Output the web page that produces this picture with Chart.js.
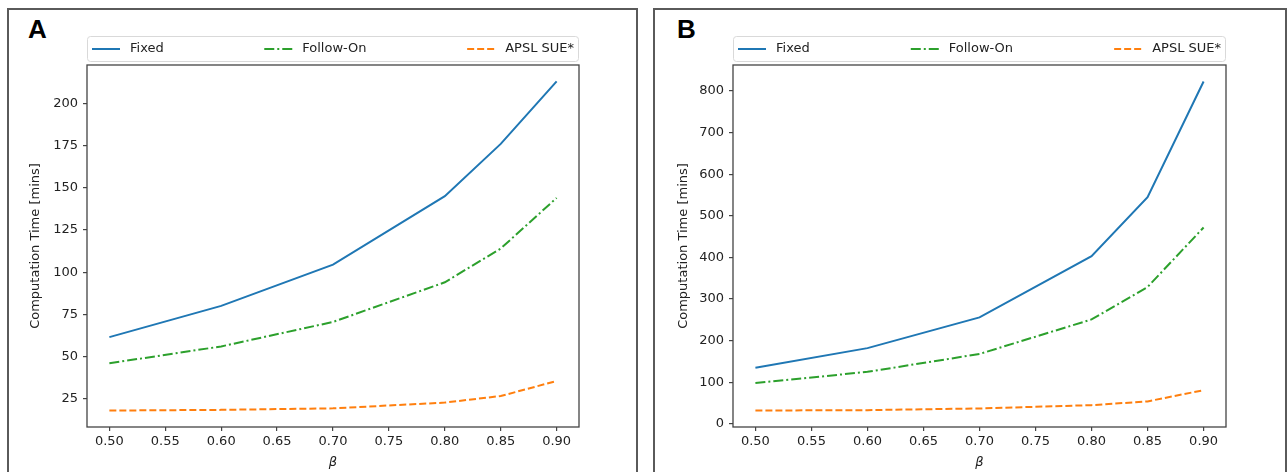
<!DOCTYPE html>
<html>
<head>
<meta charset="utf-8">
<script src="https://cdn.jsdelivr.net/npm/chart.js@4/dist/chart.umd.min.js"></script>
<style>
    body { margin: 0; background: #fff; width: 1288px; height: 472px; overflow: hidden; position: relative; }
    .panel { position: absolute; top: 8px; height: 480px; border: 2px solid #5a5a5a; box-sizing: border-box; }
    .tag { position: absolute; top: 14px; font: bold 26px "Liberation Sans", Arial, sans-serif; color: #000; }
    canvas { position: absolute; top: 0; }
</style>
</head>
<body>
<div class="panel" style="left:7px; width:631px;"></div>
<div class="panel" style="left:653px; width:634px;"></div>
<div class="tag" style="left:28px;">A</div>
<div class="tag" style="left:677px;">B</div>
<canvas id="chartA" width="644" height="472" style="left:0px;"></canvas>
<canvas id="chartB" width="644" height="472" style="left:644px;"></canvas>
<script>
// beta values where runs were made
const betaValues = [0.50, 0.60, 0.70, 0.80, 0.85, 0.90];
const xTicks = [0.50, 0.55, 0.60, 0.65, 0.70, 0.75, 0.80, 0.85, 0.90];
const seriesNames = ['Fixed', 'Follow-On', 'APSL SUE*'];

// panel A
const fixedA = [61.5, 80, 104.5, 145, 176, 213];
const followOnA = [46, 56, 70.5, 94, 114, 144];
const apslA = [18, 18.4, 19.3, 22.7, 26.6, 35.5];
const yTicksA = [25, 50, 75, 100, 125, 150, 175, 200];

// panel B
const fixedB = [135, 182, 256, 403, 545, 823];
const followOnB = [98, 125, 168, 251, 329, 472];
const apslB = [32, 33, 37, 45, 54, 81];
const yTicksB = [0, 100, 200, 300, 400, 500, 600, 700, 800];

const colors = ['#1f77b4', '#2ca02c', '#ff7f0e'];
const dashes = [[], [10, 3, 2, 3], [7, 3]];
const font = '"DejaVu Sans", sans-serif';
const fontSize = 13;

// matplotlib-style legend, expanded across the top of the axes
const legendPlugin = {
    id: 'mplLegend',
    afterDraw(chart) {
        const ctx = chart.ctx;
        const area = chart.chartArea;
        const top = 36, h = 25;
        ctx.save();
        ctx.beginPath();
        ctx.roundRect(area.left + 0.5, top + 0.5, area.right - area.left - 1, h, 3);
        ctx.fillStyle = '#fff';
        ctx.fill();
        ctx.strokeStyle = '#d9d9d9';
        ctx.lineWidth = 1;
        ctx.stroke();
        ctx.font = fontSize + 'px ' + font;
        const handleLen = 28, gap = 10, inset = 5;
        const widths = chart.data.datasets.map(ds => handleLen + gap + ctx.measureText(ds.label).width);
        const total = widths.reduce((a, b) => a + b, 0);
        const sep = (area.right - area.left - 2 * inset - total) / (widths.length - 1);
        let x = area.left + inset;
        const cy = top + h / 2 + 0.5;
        chart.data.datasets.forEach((ds, i) => {
            ctx.beginPath();
            ctx.setLineDash(ds.borderDash || []);
            ctx.strokeStyle = ds.borderColor;
            ctx.lineWidth = ds.borderWidth;
            ctx.moveTo(x, cy);
            ctx.lineTo(x + handleLen, cy);
            ctx.stroke();
            ctx.setLineDash([]);
            ctx.fillStyle = '#222';
            ctx.textBaseline = 'middle';
            ctx.fillText(ds.label, x + handleLen + gap, cy);
            x += widths[i] + sep;
        });
        ctx.restore();
    }
};

// box around the plot area
const framePlugin = {
    id: 'frame',
    afterDraw(chart) {
        const a = chart.chartArea;
        const ctx = chart.ctx;
        ctx.save();
        ctx.strokeStyle = '#444';
        ctx.lineWidth = 1.3;
        ctx.strokeRect(a.left, a.top, a.right - a.left, a.bottom - a.top);
        ctx.restore();
    }
};

function makeChart(id, values, yTicks, yAxisWidth, titlePad, padRight) {
    const all = values.flat();
    const lo = Math.min(...all), hi = Math.max(...all);
    const m = (hi - lo) * 0.05;

    const datasets = values.map((vals, i) => ({
        label: seriesNames[i],
        data: betaValues.map((b, j) => ({ x: b, y: vals[j] })),
        borderColor: colors[i],
        borderWidth: 2,
        borderDash: dashes[i],
        pointRadius: 0,
        tension: 0,
        fill: false
    }));

    return new Chart(document.getElementById(id), {
        type: 'line',
        data: { datasets: datasets },
        options: {
            responsive: false,
            animation: false,
            layout: { padding: { top: 65, right: padRight, left: 0, bottom: 0 } },
            plugins: { legend: { display: false }, tooltip: { enabled: false } },
            scales: {
                x: {
                    type: 'linear',
                    min: 0.48,
                    max: 0.92,
                    afterBuildTicks: s => { s.ticks = xTicks.map(v => ({ value: v })); },
                    afterFit: s => { s.height = 45; },
                    border: { display: false },
                    grid: { drawOnChartArea: false, drawTicks: true, tickLength: 4, color: '#444', lineWidth: 1.2 },
                    ticks: { autoSkip: false, maxRotation: 0, padding: 3, color: '#222',
                             font: { family: font, size: fontSize }, callback: v => v.toFixed(2) },
                    title: { display: true, text: 'β', color: '#222', padding: { top: 0, bottom: 2 },
                             font: { family: font, size: fontSize, style: 'italic' } }
                },
                y: {
                    min: lo - m,
                    max: hi + m,
                    afterBuildTicks: s => { s.ticks = yTicks.map(v => ({ value: v })); },
                    afterFit: s => { s.width = yAxisWidth; },
                    border: { display: false },
                    grid: { drawOnChartArea: false, drawTicks: true, tickLength: 4, color: '#444', lineWidth: 1.2 },
                    ticks: { autoSkip: false, padding: 5, color: '#222',
                             font: { family: font, size: fontSize }, callback: v => String(v) },
                    title: { display: true, text: 'Computation Time [mins]', color: '#222',
                             padding: { top: titlePad, bottom: 0 }, font: { family: font, size: fontSize } }
                }
            }
        },
        plugins: [framePlugin, legendPlugin]
    });
}

makeChart('chartA', [fixedA, followOnA, apslA], yTicksA, 87, 28, 65);
makeChart('chartB', [fixedB, followOnB, apslB], yTicksB, 89, 32, 62);
</script>
</body>
</html>
